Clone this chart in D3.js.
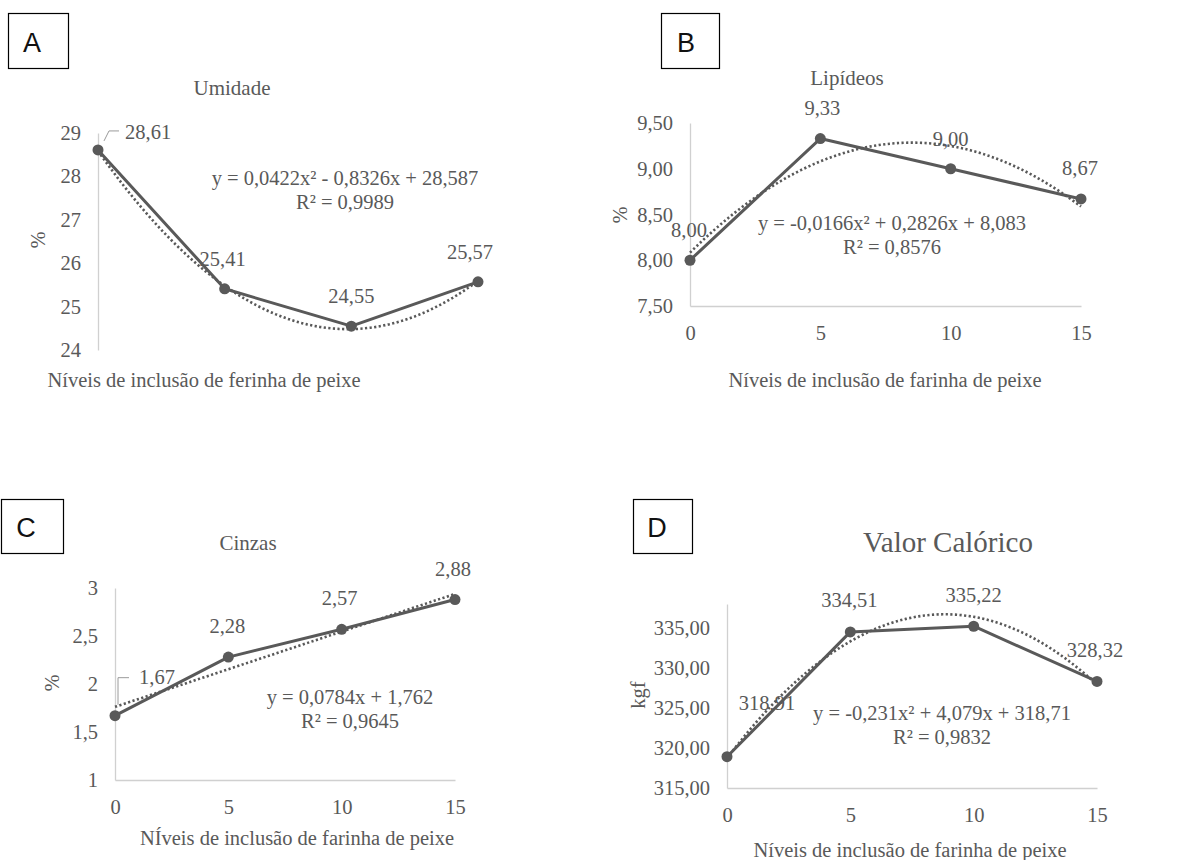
<!DOCTYPE html>
<html>
<head>
<meta charset="utf-8">
<script src="https://cdn.jsdelivr.net/npm/d3@7"></script>
<style>
  body { margin: 0; background: #fff; }
  svg text { font-family: "Liberation Serif", "Times New Roman", serif; fill: #595959; }
  .box-letter { font-family: "Liberation Sans", Arial, sans-serif !important; fill: #111 !important; }
</style>
</head>
<body>
<div id="viz"></div>
<script>
// data
const niveis = [0, 5, 10, 15];

const umidade = [28.61, 25.41, 24.55, 25.57];
const lipideos = [8.00, 9.33, 9.00, 8.67];
const cinzas = [1.67, 2.28, 2.57, 2.88];
const valorCalorico = [318.91, 334.51, 335.22, 328.32];

const ticksUmidade = [24, 25, 26, 27, 28, 29];
const ticksLipideos = [7.5, 8, 8.5, 9, 9.5];
const ticksCinzas = [1, 1.5, 2, 2.5, 3];
const ticksCalorico = [315, 320, 325, 330, 335];

// trend coefficients [a, b, c] for a*x^2 + b*x + c
const coefUmidade = [0.0422, -0.8326, 28.587];
const coefLipideos = [-0.0166, 0.2826, 8.083];
const coefCinzas = [0, 0.0784, 1.762];
const coefCalorico = [-0.231, 4.079, 318.71];

const eqUmidade = ['y = 0,0422x² - 0,8326x + 28,587', 'R² = 0,9989'];
const eqLipideos = ['y = -0,0166x² + 0,2826x + 8,083', 'R² = 0,8576'];
const eqCinzas = ['y = 0,0784x + 1,762', 'R² = 0,9645'];
const eqCalorico = ['y = -0,231x² + 4,079x + 318,71', 'R² = 0,9832'];

const w = 1201, h = 860;
const grey = '#595959';

const svg = d3.select('#viz').append('svg')
  .attr('width', w)
  .attr('height', h);

const br = d3.formatLocale({decimal: ',', thousands: '.', grouping: [3], currency: ['', '']});

var panels = [
  {letter: 'A', box: [8, 13, 60, 55], letterPos: [32, 52],
   title: 'Umidade', titlePos: [232, 88], titleSize: 21,
   values: umidade, ticks: ticksUmidade, coef: coefUmidade, eq: eqUmidade, eqPos: [345, 178],
   yDomain: [24, 29], xRange: [98, 478], yRange: [350, 133], fmt: br.format('d'),
   xAxis: false, yTitle: '%', yTitlePos: [38, 240],
   xTitle: 'Níveis de inclusão de ferinha de peixe', xTitlePos: [204, 380],
   offs: [[27, -18], [-2, -30], [0, -30], [-8, -30]], leader: 0},
  {letter: 'B', box: [661, 13, 58, 55], letterPos: [686, 52],
   title: 'Lipídeos', titlePos: [847, 78], titleSize: 21,
   values: lipideos, ticks: ticksLipideos, coef: coefLipideos, eq: eqLipideos, eqPos: [892, 223],
   yDomain: [7.5, 9.5], xRange: [690, 1081], yRange: [306, 123], fmt: br.format('.2f'),
   xAxis: true, yTitle: '%', yTitlePos: [620, 215],
   xTitle: 'Níveis de inclusão de farinha de peixe', xTitlePos: [885, 380],
   offs: [[-1, -30], [2, -31], [0, -30], [-1, -31]], leader: -1},
  {letter: 'C', box: [1, 499, 62, 54], letterPos: [26, 537],
   title: 'Cinzas', titlePos: [248, 543], titleSize: 21,
   values: cinzas, ticks: ticksCinzas, coef: coefCinzas, eq: eqCinzas, eqPos: [350, 697],
   yDomain: [1, 3], xRange: [115, 455], yRange: [780, 588], fmt: d => br.format('')(d),
   xAxis: true, yTitle: '%', yTitlePos: [52, 683],
   xTitle: 'NÍveis de inclusão de farinha de peixe', xTitlePos: [297, 838],
   offs: [[24, -39], [-1, -31], [-2, -31], [-2, -31]], leader: 0},
  {letter: 'D', box: [633, 499, 59, 54], letterPos: [657, 537],
   title: 'Valor Calórico', titlePos: [948, 542], titleSize: 29,
   values: valorCalorico, ticks: ticksCalorico, coef: coefCalorico, eq: eqCalorico, eqPos: [942, 713],
   yDomain: [315, 338], xRange: [727, 1097], yRange: [788, 604], fmt: br.format('.2f'),
   xAxis: true, yTitle: 'kgf', yTitlePos: [638, 695],
   xTitle: 'Níveis de inclusão de farinha de peixe', xTitlePos: [910, 850],
   offs: [[40, -54], [-1, -32], [0, -31], [-2, -31]], leader: -1}
];

panels.forEach(function(p) {
  var g = svg.append('g');

  var x = d3.scaleLinear().domain([0, 15]).range(p.xRange);
  var y = d3.scaleLinear().domain(p.yDomain).range(p.yRange);

  // letter box
  g.append('rect')
    .attr('x', p.box[0] + 0.5).attr('y', p.box[1] + 0.5)
    .attr('width', p.box[2]).attr('height', p.box[3])
    .attr('fill', 'none').attr('stroke', '#000').attr('stroke-width', 1.2);
  g.append('text')
    .attr('class', 'box-letter')
    .attr('x', p.letterPos[0]).attr('y', p.letterPos[1])
    .attr('text-anchor', 'middle')
    .style('font-size', '27px')
    .text(p.letter);

  // title
  g.append('text')
    .attr('x', p.titlePos[0]).attr('y', p.titlePos[1])
    .attr('text-anchor', 'middle')
    .attr('dominant-baseline', 'central')
    .style('font-size', p.titleSize + 'px')
    .text(p.title);

  // y axis
  var yAxis = g.append('g')
    .attr('transform', 'translate(' + p.xRange[0] + ',0)')
    .call(d3.axisLeft(y).tickValues(p.ticks).tickFormat(p.fmt).tickSize(0).tickPadding(17));
  yAxis.select('.domain').attr('stroke', '#d0d0d0').attr('stroke-width', 1.3);
  yAxis.selectAll('text').style('font-size', '20.5px').attr('fill', grey)
    .style('font-family', '"Liberation Serif", serif');

  // x axis
  if (p.xAxis) {
    var xAxis = g.append('g')
      .attr('transform', 'translate(0,' + p.yRange[0] + ')')
      .call(d3.axisBottom(x).tickValues(niveis).tickSize(0).tickSizeOuter(0).tickPadding(19));
    xAxis.select('.domain').attr('stroke', '#d0d0d0').attr('stroke-width', 1.3);
    xAxis.selectAll('text').style('font-size', '20.5px').attr('fill', grey)
      .style('font-family', '"Liberation Serif", serif');
  }

  // axis titles
  g.append('text')
    .attr('transform', 'translate(' + p.yTitlePos[0] + ',' + p.yTitlePos[1] + ') rotate(-90)')
    .attr('text-anchor', 'middle')
    .attr('dominant-baseline', 'central')
    .style('font-size', '20.5px')
    .text(p.yTitle);
  g.append('text')
    .attr('x', p.xTitlePos[0]).attr('y', p.xTitlePos[1])
    .attr('text-anchor', 'middle')
    .attr('dominant-baseline', 'central')
    .style('font-size', '20.5px')
    .text(p.xTitle);

  var pts = niveis.map((n, i) => ({x: n, y: p.values[i]}));

  // trend line
  var xs = d3.range(0, 15.001, 0.25);
  var trend = xs.map(v => ({x: v, y: p.coef[0] * v * v + p.coef[1] * v + p.coef[2]}));
  g.append('path')
    .datum(trend)
    .attr('fill', 'none')
    .attr('stroke', grey)
    .attr('stroke-width', 2.6)
    .attr('stroke-dasharray', '2.2,2.4')
    .attr('d', d3.line().x(d => x(d.x)).y(d => y(d.y)));

  // series line
  g.append('path')
    .datum(pts)
    .attr('fill', 'none')
    .attr('stroke', grey)
    .attr('stroke-width', 3)
    .attr('stroke-linejoin', 'round')
    .attr('d', d3.line().x(d => x(d.x)).y(d => y(d.y)));

  g.selectAll('circle.pt')
    .data(pts)
    .enter()
    .append('circle')
    .attr('class', 'pt')
    .attr('cx', d => x(d.x))
    .attr('cy', d => y(d.y))
    .attr('r', 5.5)
    .attr('fill', grey);

  // data labels
  g.selectAll('text.lbl')
    .data(pts)
    .enter()
    .append('text')
    .attr('class', 'lbl')
    .attr('x', (d, i) => x(d.x) + p.offs[i][0])
    .attr('y', (d, i) => y(d.y) + p.offs[i][1])
    .attr('text-anchor', (d, i) => i === p.leader ? 'start' : 'middle')
    .attr('dominant-baseline', 'central')
    .style('font-size', '20.5px')
    .text(d => br.format('.2f')(d.y));

  // leader line for first label
  if (p.leader === 0) {
    var px = x(pts[0].x), py = y(pts[0].y), o = p.offs[0];
    var path = p.letter === 'A'
      ? [[px + 6, py - 9], [px + 11, py - 19], [px + 21, py - 19]]
      : [[px + 3, py - 11], [px + 3, py - 38], [px + 14, py - 38]];
    g.append('path')
      .attr('d', d3.line()(path))
      .attr('fill', 'none')
      .attr('stroke', '#9a9a9a')
      .attr('stroke-width', 1);
  }

  // equation
  g.selectAll('text.eq')
    .data(p.eq)
    .enter()
    .append('text')
    .attr('class', 'eq')
    .attr('x', p.eqPos[0])
    .attr('y', (d, i) => p.eqPos[1] + i * 24)
    .attr('text-anchor', 'middle')
    .attr('dominant-baseline', 'central')
    .style('font-size', '20.5px')
    .text(d => d);
});
</script>
</body>
</html>
